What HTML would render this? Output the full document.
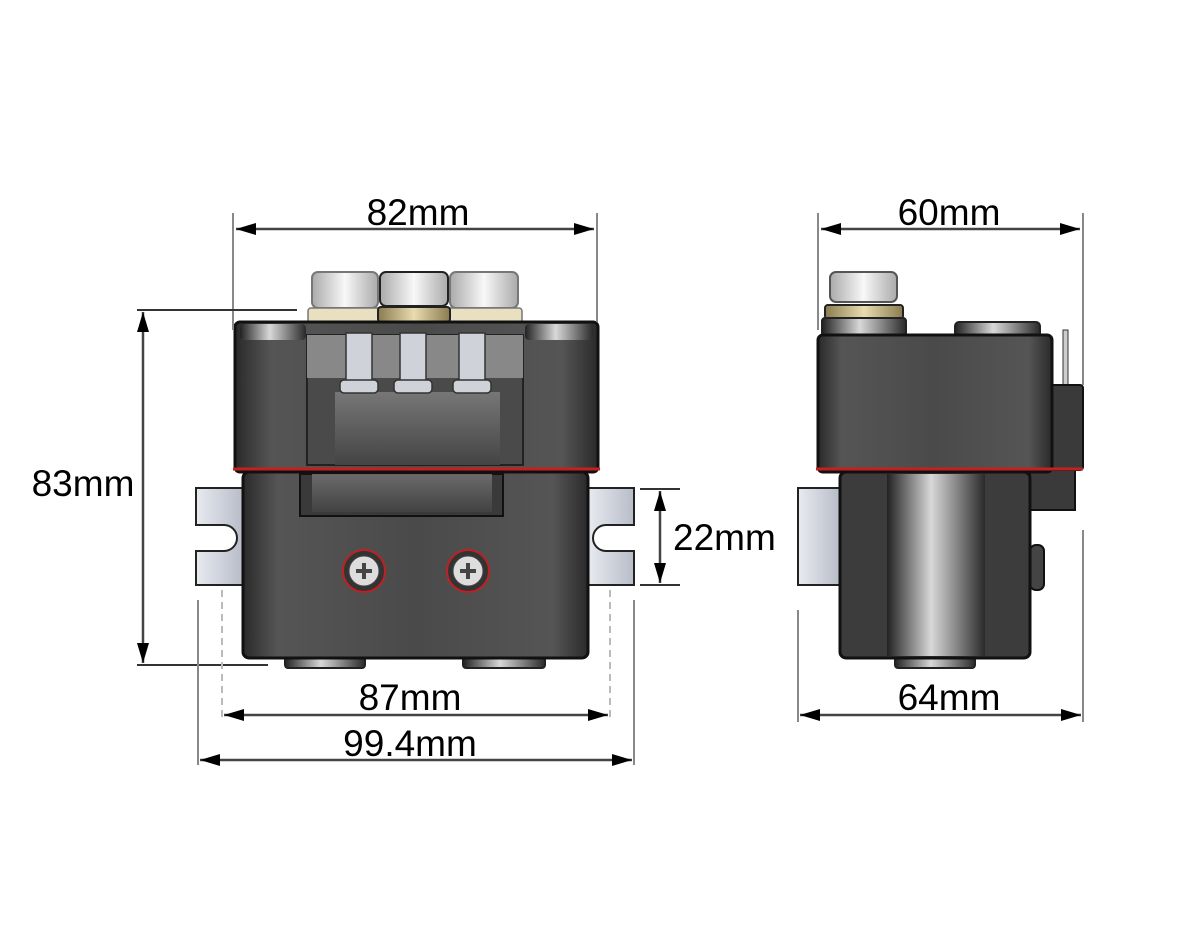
<!DOCTYPE html>
<html><head><meta charset="utf-8"><style>
html,body{margin:0;padding:0;background:#fff;}
svg{display:block}
text{font-family:"Liberation Sans",sans-serif;font-size:37px;fill:#000}
</style></head><body>
<svg width="1200" height="950" viewBox="0 0 1200 950" xmlns="http://www.w3.org/2000/svg">
<defs>
<linearGradient id="body" x1="0" x2="1" y1="0" y2="0">
<stop offset="0" stop-color="#2a2a2a"/><stop offset="0.1" stop-color="#555"/><stop offset="0.5" stop-color="#4a4a4a"/><stop offset="0.9" stop-color="#555"/><stop offset="1" stop-color="#2a2a2a"/></linearGradient>
<linearGradient id="cyl" x1="0" x2="1">
<stop offset="0" stop-color="#222"/><stop offset="0.45" stop-color="#d8d8d8"/><stop offset="0.6" stop-color="#aaa"/><stop offset="1" stop-color="#2a2a2a"/></linearGradient>
<linearGradient id="recess" x1="0" x2="0" y1="0" y2="1">
<stop offset="0" stop-color="#777"/><stop offset="1" stop-color="#444"/></linearGradient>
<linearGradient id="nut" x1="0" x2="1">
<stop offset="0" stop-color="#aaa"/><stop offset="0.5" stop-color="#f8f8f8"/><stop offset="1" stop-color="#aaa"/></linearGradient>
<linearGradient id="gold" x1="0" x2="1">
<stop offset="0" stop-color="#8a7a50"/><stop offset="0.5" stop-color="#e8dcb0"/><stop offset="1" stop-color="#8a7a50"/></linearGradient>
<linearGradient id="brk" x1="0" x2="1">
<stop offset="0" stop-color="#e8ebf0"/><stop offset="1" stop-color="#b8bcc8"/></linearGradient>
<marker id="ar" markerWidth="20" markerHeight="12" refX="20" refY="6" orient="auto-start-reverse" markerUnits="userSpaceOnUse" viewBox="0 0 20 12"><path d="M20,6 L0,0 L0,12 Z" fill="#000"/></marker>
</defs>

<!-- LEFT DEVICE -->
<path d="M196,488 H243 V585 H196 V551 H224 A11,11 0 0 0 224,525 H196 Z" fill="url(#brk)" stroke="#222" stroke-width="2"/>
<path d="M634,488 H588 V585 H634 V551 H606 A11,11 0 0 1 606,525 H634 Z" fill="url(#brk)" stroke="#222" stroke-width="2"/>
<rect x="285" y="652" width="80" height="16" rx="3" fill="url(#cyl)" stroke="#222" stroke-width="2"/>
<rect x="463" y="652" width="82" height="16" rx="3" fill="url(#cyl)" stroke="#222" stroke-width="2"/>
<rect x="243" y="472" width="345" height="186" rx="6" fill="url(#body)" stroke="#111" stroke-width="3"/>
<rect x="300" y="474" width="203" height="42" fill="#3a3a3a" stroke="#111" stroke-width="2"/>
<rect x="312" y="474" width="180" height="38" fill="url(#recess)" opacity="0.8"/>
<rect x="312" y="272" width="66" height="36" rx="6" fill="url(#nut)" stroke="#777" stroke-width="2"/>
<rect x="380" y="272" width="68" height="34" rx="6" fill="url(#nut)" stroke="#222" stroke-width="2"/>
<rect x="450" y="272" width="68" height="36" rx="6" fill="url(#nut)" stroke="#777" stroke-width="2"/>
<rect x="308" y="308" width="214" height="16" rx="3" fill="#e8e0c0" stroke="#777" stroke-width="1.5"/>
<rect x="378" y="307" width="72" height="15" rx="3" fill="url(#gold)" stroke="#222" stroke-width="2"/>
<rect x="235" y="322" width="363" height="150" rx="5" fill="url(#body)" stroke="#111" stroke-width="3"/>
<rect x="240" y="324" width="66" height="16" rx="4" fill="url(#cyl)"/>
<rect x="525" y="324" width="68" height="16" rx="4" fill="url(#cyl)"/>
<rect x="307" y="335" width="216" height="130" fill="#4a4a4a" stroke="#222" stroke-width="2"/>
<path d="M307,335 H523 V378 H307Z" fill="#888"/>
<rect x="335" y="392" width="165" height="73" fill="url(#recess)"/>
<g fill="#cfd2d8" stroke="#333" stroke-width="1.5">
<rect x="346" y="333" width="26" height="50"/><rect x="400" y="333" width="26" height="50"/><rect x="459" y="333" width="26" height="50"/>
<rect x="340" y="380" width="38" height="13" rx="4"/><rect x="394" y="380" width="38" height="13" rx="4"/><rect x="453" y="380" width="38" height="13" rx="4"/>
</g>
<line x1="233" y1="469" x2="600" y2="469" stroke="#c42020" stroke-width="3"/>
<g>
<circle cx="364" cy="571" r="21" fill="#333" stroke="#c02020" stroke-width="2"/>
<circle cx="364" cy="571" r="15" fill="#ddd" stroke="#444"/>
<path d="M356,571 H372 M364,563 V579" stroke="#444" stroke-width="4"/>
<circle cx="468" cy="571" r="21" fill="#333" stroke="#c02020" stroke-width="2"/>
<circle cx="468" cy="571" r="15" fill="#ddd" stroke="#444"/>
<path d="M460,571 H476 M468,563 V579" stroke="#444" stroke-width="4"/>
</g>

<!-- RIGHT DEVICE -->
<rect x="798" y="488" width="42" height="97" fill="url(#brk)" stroke="#222" stroke-width="2"/>
<rect x="895" y="652" width="80" height="16" rx="3" fill="url(#cyl)" stroke="#222" stroke-width="2"/>
<rect x="1030" y="470" width="45" height="40" fill="#3a3a3a" stroke="#111" stroke-width="2"/>
<rect x="1030" y="545" width="14" height="45" rx="6" fill="#444" stroke="#111" stroke-width="2"/>
<rect x="840" y="472" width="190" height="186" rx="6" fill="#3c3c3c" stroke="#111" stroke-width="3"/>
<rect x="887" y="474" width="98" height="182" fill="url(#cyl)"/>
<rect x="830" y="272" width="67" height="30" rx="6" fill="url(#nut)" stroke="#555" stroke-width="2"/>
<rect x="825" y="305" width="78" height="14" rx="3" fill="url(#gold)" stroke="#222" stroke-width="2"/>
<rect x="822" y="318" width="84" height="18" rx="3" fill="url(#cyl)" stroke="#222" stroke-width="2"/>
<rect x="955" y="322" width="85" height="18" rx="4" fill="url(#cyl)" stroke="#222" stroke-width="2"/>
<rect x="1063" y="330" width="5" height="58" fill="#ccc" stroke="#333"/>
<rect x="1050" y="385" width="33" height="85" rx="3" fill="#3a3a3a" stroke="#111" stroke-width="2"/>
<rect x="818" y="335" width="234" height="137" rx="5" fill="url(#body)" stroke="#111" stroke-width="3"/>
<line x1="816" y1="469" x2="1083" y2="469" stroke="#c42020" stroke-width="3"/>

<!-- DIMENSIONS -->
<g stroke="#888" stroke-width="2" fill="none">
<line x1="233" y1="213" x2="233" y2="330"/><line x1="597" y1="213" x2="597" y2="322"/>
<line x1="818" y1="213" x2="818" y2="330"/><line x1="1083" y1="213" x2="1083" y2="385"/>
<line x1="137" y1="310" x2="297" y2="310" stroke="#333"/><line x1="137" y1="665" x2="268" y2="665" stroke="#333"/>
<line x1="640" y1="489" x2="680" y2="489" stroke="#333"/><line x1="640" y1="585" x2="680" y2="585" stroke="#333"/>
<line x1="222" y1="590" x2="222" y2="720" stroke-dasharray="7,5" stroke="#bbb"/><line x1="610" y1="590" x2="610" y2="720" stroke-dasharray="7,5" stroke="#bbb"/>
<line x1="198" y1="600" x2="198" y2="765"/><line x1="634" y1="600" x2="634" y2="765"/>
<line x1="798" y1="610" x2="798" y2="722"/><line x1="1083" y1="530" x2="1083" y2="722"/>
</g>
<g stroke="#444" stroke-width="2.5" fill="none">
<line x1="236" y1="229" x2="594" y2="229" marker-start="url(#ar)" marker-end="url(#ar)"/>
<line x1="821" y1="229" x2="1080" y2="229" marker-start="url(#ar)" marker-end="url(#ar)"/>
<line x1="143" y1="312" x2="143" y2="663" marker-start="url(#ar)" marker-end="url(#ar)"/>
<line x1="660" y1="491" x2="660" y2="583" marker-start="url(#ar)" marker-end="url(#ar)"/>
<line x1="224" y1="715" x2="608" y2="715" marker-start="url(#ar)" marker-end="url(#ar)"/>
<line x1="200" y1="760" x2="632" y2="760" marker-start="url(#ar)" marker-end="url(#ar)"/>
<line x1="800" y1="715" x2="1081" y2="715" marker-start="url(#ar)" marker-end="url(#ar)"/>
</g>
<text x="418" y="225" text-anchor="middle">82mm</text>
<text x="949" y="225" text-anchor="middle">60mm</text>
<text x="83" y="496" text-anchor="middle">83mm</text>
<text x="673" y="550">22mm</text>
<text x="410" y="710" text-anchor="middle">87mm</text>
<text x="410" y="756" text-anchor="middle">99.4mm</text>
<text x="949" y="710" text-anchor="middle">64mm</text>
</svg>
</body></html>
